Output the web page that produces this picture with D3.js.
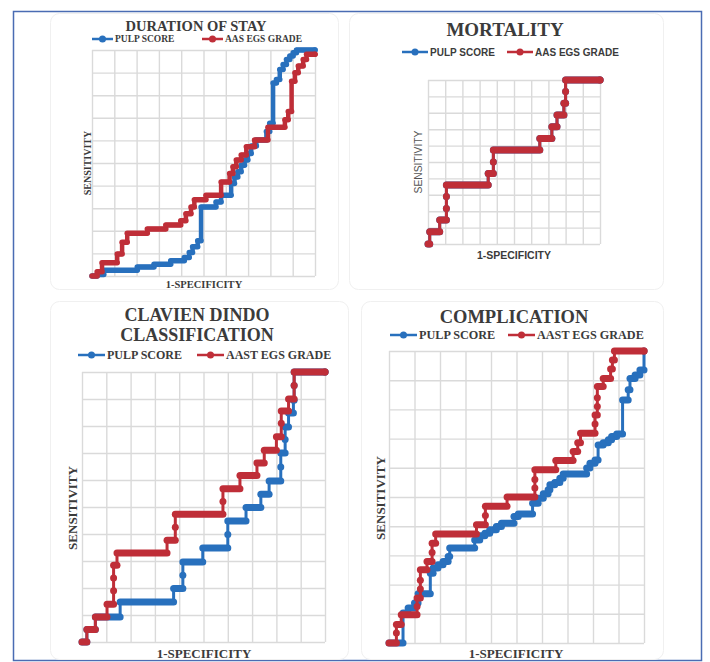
<!DOCTYPE html>
<html>
<head>
<meta charset="utf-8">
<script src="https://cdn.jsdelivr.net/npm/d3@7/dist/d3.min.js"></script>
<style>
  body { margin: 0; background: #fff; }
  svg { display: block; }
</style>
</head>
<body>
<svg id="chart" width="710" height="662"></svg>
<script>
// ROC points [1-specificity, sensitivity] (step vertices)
const stayPulp = [[0,0],[0.023,0.007],[0.053,0.025],[0.203,0.04],[0.278,0.052],[0.353,0.067],[0.414,0.082],[0.436,0.104],[0.451,0.129],[0.474,0.156],[0.489,0.305],[0.556,0.327],[0.579,0.357],[0.624,0.409],[0.639,0.438],[0.654,0.461],[0.669,0.49],[0.684,0.513],[0.699,0.542],[0.714,0.575],[0.737,0.602],[0.782,0.639],[0.797,0.676],[0.812,0.854],[0.827,0.869],[0.842,0.914],[0.857,0.936],[0.872,0.958],[0.887,0.973],[0.902,0.988],[0.917,1],[1,1]];
const stayAas = [[0,0],[0.023,0.019],[0.045,0.059],[0.113,0.097],[0.135,0.149],[0.158,0.189],[0.248,0.208],[0.331,0.226],[0.398,0.245],[0.421,0.275],[0.444,0.305],[0.459,0.337],[0.511,0.357],[0.579,0.416],[0.617,0.453],[0.632,0.483],[0.647,0.513],[0.669,0.535],[0.692,0.572],[0.729,0.602],[0.789,0.658],[0.865,0.691],[0.88,0.728],[0.895,0.862],[0.91,0.899],[0.925,0.929],[0.947,0.958],[0.962,0.981],[1,0.981]];

const mortalityPulp = [[0,0],[0.01,0.075],[0.068,0.146],[0.107,0.217],[0.107,0.289],[0.107,0.36],[0.35,0.43],[0.38,0.5],[0.38,0.573],[0.65,0.644],[0.72,0.715],[0.75,0.787],[0.79,0.858],[0.8,0.93],[0.8,1],[1,1]];
const mortalityAas = [[0,0],[0.01,0.075],[0.068,0.146],[0.107,0.217],[0.107,0.289],[0.107,0.36],[0.35,0.43],[0.38,0.5],[0.38,0.573],[0.65,0.644],[0.72,0.715],[0.75,0.787],[0.79,0.858],[0.8,0.93],[0.8,1],[1,1]];

const clavienPulp = [[0,0],[0.02,0.046],[0.055,0.093],[0.157,0.148],[0.377,0.198],[0.415,0.247],[0.415,0.296],[0.497,0.348],[0.6,0.398],[0.6,0.448],[0.675,0.498],[0.736,0.547],[0.77,0.596],[0.818,0.648],[0.818,0.7],[0.836,0.75],[0.836,0.796],[0.85,0.848],[0.87,0.895],[0.873,0.95],[0.873,1],[1,1]];
const clavienAast = [[0,0],[0.02,0.046],[0.055,0.093],[0.103,0.14],[0.13,0.19],[0.13,0.237],[0.13,0.284],[0.144,0.33],[0.35,0.377],[0.384,0.425],[0.384,0.473],[0.58,0.52],[0.58,0.568],[0.65,0.617],[0.72,0.663],[0.75,0.71],[0.8,0.76],[0.82,0.81],[0.82,0.856],[0.85,0.9],[0.873,0.95],[0.873,1],[1,1]];

const complicationPulp = [[0,0],[0.055,0.103],[0.075,0.12],[0.1,0.137],[0.114,0.169],[0.162,0.239],[0.173,0.257],[0.192,0.268],[0.212,0.279],[0.232,0.296],[0.238,0.325],[0.336,0.353],[0.356,0.367],[0.376,0.376],[0.395,0.388],[0.421,0.399],[0.441,0.41],[0.49,0.433],[0.507,0.442],[0.563,0.479],[0.585,0.496],[0.605,0.511],[0.624,0.525],[0.631,0.542],[0.65,0.55],[0.67,0.564],[0.683,0.579],[0.775,0.599],[0.788,0.616],[0.808,0.627],[0.82,0.678],[0.84,0.686],[0.86,0.696],[0.873,0.707],[0.893,0.716],[0.916,0.832],[0.938,0.867],[0.945,0.906],[0.965,0.918],[0.984,0.935],[1,1]];
const complicationAast = [[0,0],[0.029,0.034],[0.029,0.063],[0.048,0.097],[0.11,0.125],[0.11,0.154],[0.123,0.185],[0.123,0.215],[0.123,0.251],[0.149,0.279],[0.169,0.31],[0.169,0.342],[0.183,0.373],[0.343,0.405],[0.378,0.437],[0.378,0.468],[0.463,0.5],[0.572,0.531],[0.572,0.56],[0.572,0.593],[0.654,0.625],[0.722,0.656],[0.74,0.686],[0.751,0.718],[0.808,0.75],[0.808,0.781],[0.817,0.81],[0.817,0.84],[0.817,0.878],[0.84,0.906],[0.869,0.938],[0.876,0.969],[0.884,1],[1,1]];

const gridTicks = [0,0.1,0.2,0.3,0.4,0.5,0.6,0.7,0.8,0.9,1];
const titles = [["DURATION OF STAY"], ["MORTALITY"], ["CLAVIEN DINDO","CLASSIFICATION"], ["COMPLICATION"]];
const legendNames = [["PULP SCORE","AAS EGS GRADE"],["PULP SCORE","AAS EGS GRADE"],["PULP SCORE","AAST EGS GRADE"],["PULP SCORE","AAST EGS GRADE"]];
const xLabel = "1-SPECIFICITY", yLabel = "SENSITIVITY";

const BLUE = "#2870bd", RED = "#bf2e38", TXT = "#3b3b3b";
const SERIF = "'Liberation Serif', 'Times New Roman', serif";
const SANS = "'Liberation Sans', Arial, sans-serif";

var svg = d3.select("#chart");

// outer frame
svg.append("rect").attr("x",13.5).attr("y",11.5).attr("width",688).attr("height",649)
  .attr("fill","none").attr("stroke","#4a6cb3").attr("stroke-width",1.5);

var panels = [
  {box:[50,13,288,276], plot:[92,50,315,276], data:[stayPulp,stayAas], band:5.5, conn:4.5,
   title:{x:196,y:[31],size:14.5}, legend:{y:39,size:9.5,font:SERIF,items:[92,202],len:21},
   xl:{x:204,y:288,size:10.5,font:SERIF,weight:"bold"}, yl:{x:87,y:163,size:10,font:SERIF,weight:"bold"}},
  {box:[349,13,314,276], plot:[428,80,600,244], data:[mortalityPulp,mortalityAas], band:7, conn:3,
   title:{x:505,y:36,size:19}, legend:{y:52,size:10,font:SANS,items:[402,507],len:26},
   xl:{x:514,y:259,size:10.5,font:SANS,weight:"bold"}, yl:{x:418,y:162,size:10.3,font:SANS,weight:"normal",fill:"#555"}},
  {box:[50,301,298,358], plot:[82,372,325,642], data:[clavienPulp,clavienAast], band:7, conn:3,
   title:{x:197,y:[321,341],size:18}, legend:{y:355,size:12,font:SERIF,items:[78,197],len:27},
   xl:{x:204,y:658,size:13,font:SERIF,weight:"bold"}, yl:{x:72,y:508,size:13,font:SERIF,weight:"bold"}},
  {box:[361,301,302,358], plot:[389,351,644,643], data:[complicationPulp,complicationAast], band:7, conn:3,
   title:{x:514,y:[323],size:18.5}, legend:{y:335,size:12.2,font:SERIF,items:[390,508],len:27},
   xl:{x:516,y:658,size:13,font:SERIF,weight:"bold"}, yl:{x:380,y:498,size:13,font:SERIF,weight:"bold"}}
];

panels.forEach(function(p, idx){
  var g = svg.append("g");
  // faint card
  g.append("rect").attr("x",p.box[0]+0.5).attr("y",p.box[1]+0.5)
    .attr("width",p.box[2]).attr("height",p.box[3]).attr("rx",9)
    .attr("fill","#fff").attr("stroke","#f0f0f0").attr("stroke-width",1);

  var x = d3.scaleLinear().domain([0,1]).range([p.plot[0],p.plot[2]]);
  var y = d3.scaleLinear().domain([0,1]).range([p.plot[3],p.plot[1]]);
  var w = p.plot[2]-p.plot[0], h = p.plot[3]-p.plot[1];

  // grid from axes
  var gx = g.append("g").attr("transform","translate(0,"+p.plot[3]+")")
    .call(d3.axisBottom(x).tickValues(gridTicks).tickSize(-h).tickFormat(""));
  var gy = g.append("g").attr("transform","translate("+p.plot[0]+",0)")
    .call(d3.axisLeft(y).tickValues(gridTicks).tickSize(-w).tickFormat(""));
  [gx,gy].forEach(function(a){
    a.select(".domain").remove();
    a.selectAll(".tick line").attr("stroke","#dadada").attr("stroke-width",1.4);
  });

  // series: blue first, red on top
  var colors = [BLUE, RED];
  p.data.forEach(function(pts, si){
    var c = colors[si];
    var line = d3.line().x(function(d){return x(d[0]);}).y(function(d){return y(d[1]);}).curve(d3.curveStepAfter);
    g.append("path").datum(pts).attr("d",line).attr("fill","none")
      .attr("stroke",c).attr("stroke-width",p.conn).attr("stroke-linejoin","round");
    // horizontal runs of overlapping markers
    g.selectAll(null).data(pts).enter().append("line")
      .attr("x1",function(d){return x(d[0]);})
      .attr("x2",function(d,i){return x(i<pts.length-1 ? pts[i+1][0] : d[0]);})
      .attr("y1",function(d){return y(d[1]);})
      .attr("y2",function(d){return y(d[1]);})
      .attr("stroke",c).attr("stroke-width",p.band).attr("stroke-linecap","round");
  });

  // title
  var t = g.append("text").attr("text-anchor","middle").attr("font-family",SERIF)
    .attr("font-weight","bold").attr("font-size",p.title.size).attr("fill",TXT);
  titles[idx].forEach(function(s, k){
    t.append("tspan").attr("x",p.title.x).attr("y",[].concat(p.title.y)[k]).text(s);
  });

  // legend
  legendNames[idx].forEach(function(name, k){
    var lx = p.legend.items[k], ly = p.legend.y;
    g.append("line").attr("x1",lx).attr("x2",lx+p.legend.len).attr("y1",ly).attr("y2",ly)
      .attr("stroke",colors[k]).attr("stroke-width",2.5);
    g.append("circle").attr("cx",lx+p.legend.len/2).attr("cy",ly).attr("r",3.5).attr("fill",colors[k]);
    g.append("text").attr("x",lx+p.legend.len+2).attr("y",ly+p.legend.size*0.35)
      .attr("font-family",p.legend.font).attr("font-weight","bold")
      .attr("font-size",p.legend.size).attr("fill",TXT).text(name);
  });

  // axis titles
  g.append("text").attr("x",p.xl.x).attr("y",p.xl.y).attr("text-anchor","middle")
    .attr("font-family",p.xl.font).attr("font-weight",p.xl.weight).attr("font-size",p.xl.size)
    .attr("fill",TXT).text(xLabel);
  g.append("text").attr("transform","translate("+p.yl.x+","+p.yl.y+") rotate(-90)")
    .attr("text-anchor","middle").attr("dy","0.35em")
    .attr("font-family",p.yl.font).attr("font-weight",p.yl.weight).attr("font-size",p.yl.size)
    .attr("fill",p.yl.fill || TXT).text(yLabel);
});
</script>
</body>
</html>
